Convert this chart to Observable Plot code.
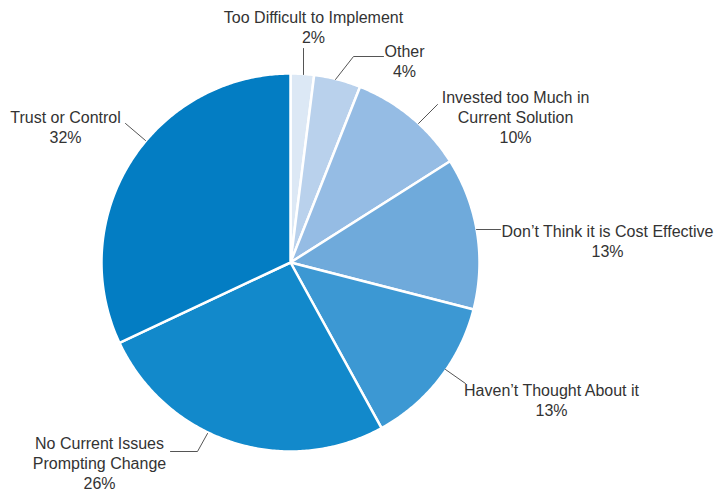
<!DOCTYPE html>
<html><head><meta charset="utf-8">
<script src="https://cdn.jsdelivr.net/npm/d3@7"></script>
<script src="https://cdn.jsdelivr.net/npm/@observablehq/plot@0.6"></script>
<style>body{margin:0;background:#fff;overflow:hidden}</style>
</head><body><div id="chart"></div>
<script>
// ---- data ----
const categories = ["Too Difficult to Implement","Other","Invested too Much in Current Solution","Don’t Think it is Cost Effective","Haven’t Thought About it","No Current Issues Prompting Change","Trust or Control"];
const values = [2,4,10,13,13,26,32];
const labelText = ["Too Difficult to Implement","Other","Invested too Much in\nCurrent Solution","Don’t Think it is Cost Effective","Haven’t Thought About it","No Current Issues\nPrompting Change","Trust or Control"];
const colors = ["#dce8f5","#b9d1ec","#95bce4","#6faadb","#3c98d3","#1289cb","#037dc3"];

// ---- layout (pixels) ----
const W = 725, H = 493, cx = 290, cy = 262, R = 189;
const labelPos = [[313,26],[404,60],[515,116],[607,240],[551,399],[99,462],[65,126]];
const leaderPaths = [
  [[303,74],[303,48]],
  [[335,79],[353,56],[383,56]],
  [[418,123],[437,104]],
  [[476,229],[500,229]],
  [[445,369],[465,383]],
  [[207,433],[197,451],[170,451]],
  [[145,140],[125,123]]
];

const arcs = d3.pie().sort(null).value(d => d)(values);
const slicePts = [];
arcs.forEach((a, i) => {
  const cat = categories[i];
  slicePts.push({cat, x: cx, y: cy});
  const n = Math.max(2, Math.ceil((a.endAngle - a.startAngle) / 0.01));
  for (let k = 0; k <= n; k++) {
    const t = a.startAngle + (a.endAngle - a.startAngle) * k / n;
    slicePts.push({cat, x: cx + R * Math.sin(t), y: cy - R * Math.cos(t)});
  }
  slicePts.push({cat, x: cx, y: cy});
});

const leaderPts = leaderPaths.flatMap((p, i) => p.map(([x, y]) => ({cat: categories[i], x, y})));
const labels = categories.map((c, i) => ({cat: c, x: labelPos[i][0], y: labelPos[i][1], text: `${labelText[i]}\n${values[i]}%`}));

const chart = Plot.plot({
  width: W, height: H, margin: 0,
  style: {background: "#fff", overflow: "visible"},
  x: {domain: [0, W], range: [0, W], axis: null},
  y: {domain: [0, H], range: [0, H], axis: null},
  color: {domain: categories, range: colors},
  marks: [
    Plot.line(slicePts, {x: "x", y: "y", z: "cat", fill: "cat", stroke: "white", strokeWidth: 2.5, curve: "linear", strokeLinejoin: "round"}),
    Plot.line(leaderPts, {x: "x", y: "y", z: "cat", stroke: "#555", strokeWidth: 1, curve: "linear"}),
    Plot.text(labels, {x: "x", y: "y", text: "text", fontSize: 16, fill: "#333", lineHeight: 1.25, fontFamily: "Liberation Sans, Arial, sans-serif", lineAnchor: "middle"})
  ]
});
document.getElementById("chart").append(chart);
</script>
</body></html>
